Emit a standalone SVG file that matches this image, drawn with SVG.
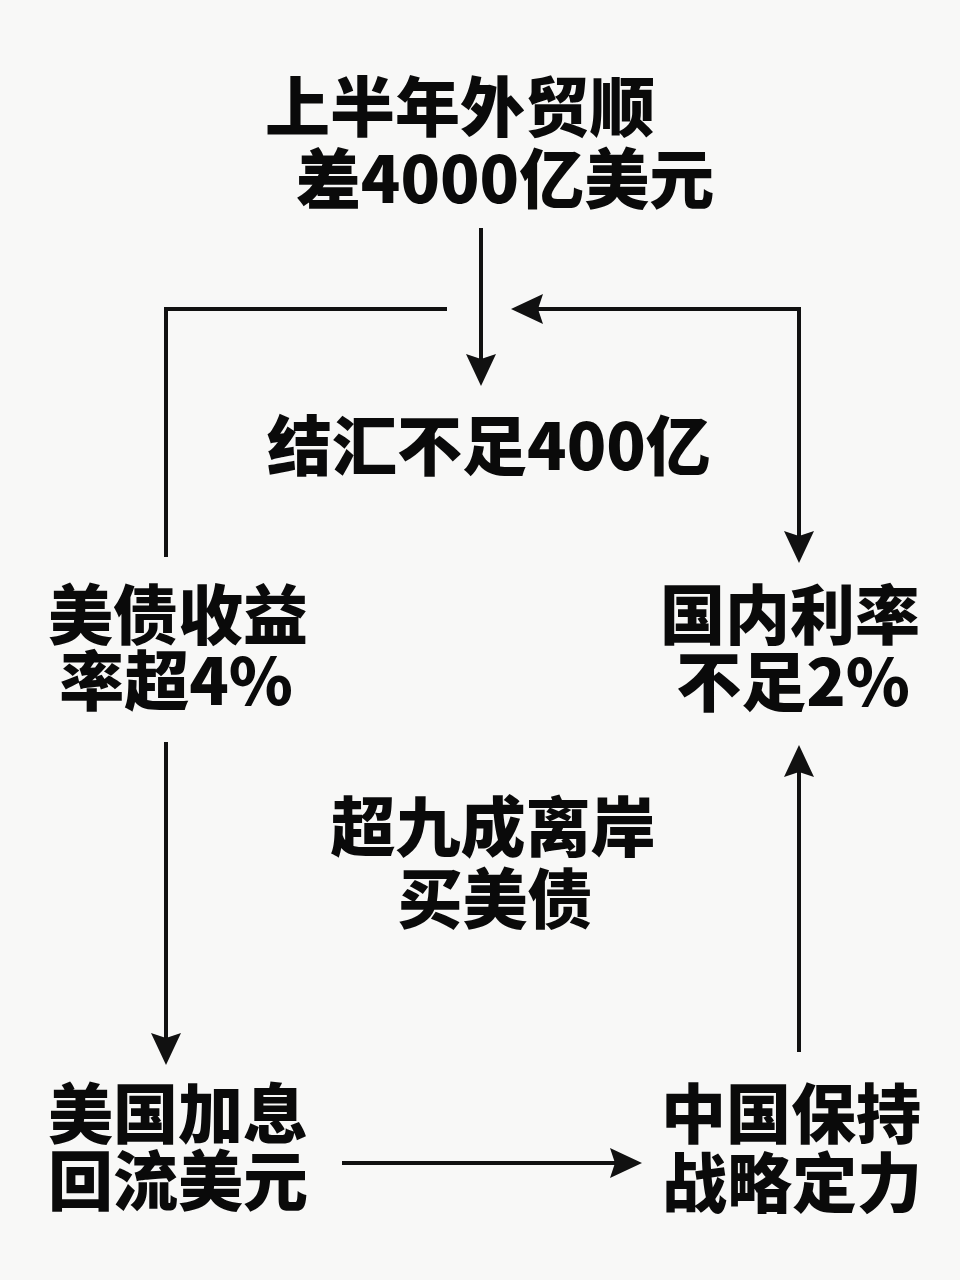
<svg xmlns="http://www.w3.org/2000/svg" width="960" height="1280" viewBox="0 0 960 1280">
<style>
.t{font-family:"Noto Sans CJK SC","Noto Sans",sans-serif;font-weight:900;font-size:65px;fill:#0a0a0a;text-anchor:middle}
.c{fill:none;stroke:#111;stroke-width:4}
</style>
<defs>
<marker id="ah" viewBox="0 0 32 30" refX="22" refY="15" markerWidth="32" markerHeight="30" markerUnits="userSpaceOnUse" orient="auto-start-reverse">
<path d="M0,0 L32,15 L0,30 L5,15 z" fill="#111"/>
</marker>
</defs>
<rect width="960" height="1280" fill="#f8f8f7"/>
<g id="connectors">
<path class="c" d="M481,228 V376" marker-end="url(#ah)"/>
<path class="c" d="M521,309 H799 V553" marker-start="url(#ah)" marker-end="url(#ah)"/>
<path class="c" d="M447,309 H166 V557"/>
<path class="c" d="M166,742 V1055" marker-end="url(#ah)"/>
<path class="c" d="M342,1163 H632" marker-end="url(#ah)"/>
<path class="c" d="M799,1052 V755" marker-end="url(#ah)"/>
</g>
<g id="n-trade">
<text class="t" x="460" y="131">上半年外贸顺</text>
<text class="t" x="505" y="203">差4000亿美元</text>
</g>
<g id="n-settle">
<text class="t" x="489" y="470">结汇不足400亿</text>
</g>
<g id="n-ust-yield">
<text class="t" x="178" y="639">美债收益</text>
<text class="t" x="176" y="705">率超4%</text>
</g>
<g id="n-domestic-rate">
<text class="t" x="790" y="639">国内利率</text>
<text class="t" x="793" y="706">不足2%</text>
</g>
<g id="n-offshore">
<text class="t" x="493" y="851">超九成离岸</text>
<text class="t" x="495" y="923">买美债</text>
</g>
<g id="n-us-hike">
<text class="t" x="178" y="1138">美国加息</text>
<text class="t" x="178" y="1205">回流美元</text>
</g>
<g id="n-china">
<text class="t" x="791" y="1138">中国保持</text>
<text class="t" x="792" y="1207">战略定力</text>
</g>
</svg>
